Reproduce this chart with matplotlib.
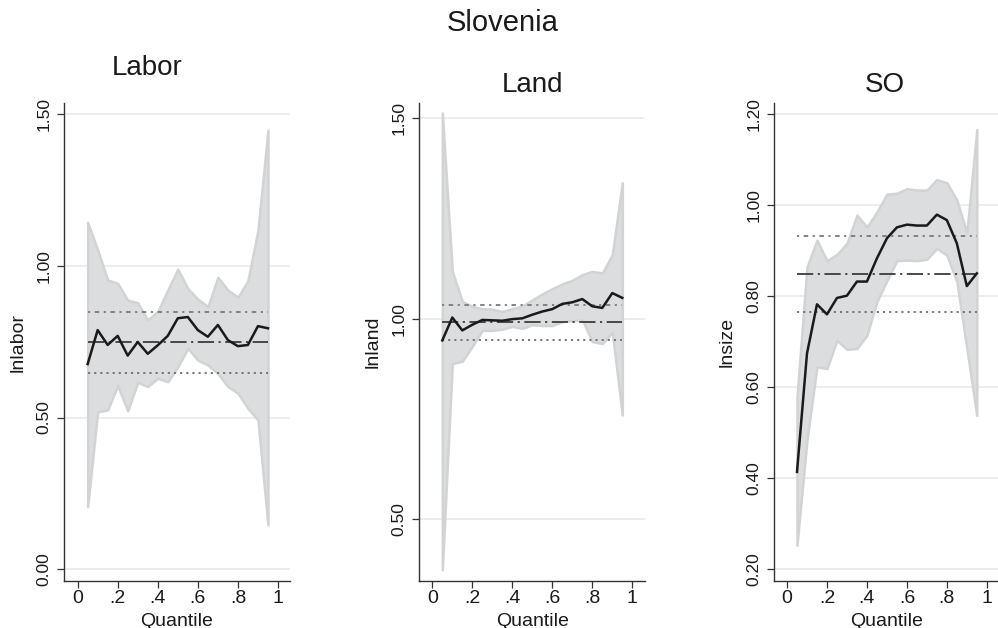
import matplotlib
matplotlib.use("Agg")
import matplotlib.pyplot as plt

plt.rcParams["font.family"] = ["Liberation Sans", "DejaVu Sans"]

quantiles = [0.05, 0.10, 0.15, 0.20, 0.25, 0.30, 0.35, 0.40, 0.45, 0.50,
             0.55, 0.60, 0.65, 0.70, 0.75, 0.80, 0.85, 0.90, 0.95]

# Labor
labor_coef = [0.676, 0.788, 0.739, 0.769, 0.704, 0.749, 0.710, 0.738, 0.769, 0.827,
              0.831, 0.788, 0.766, 0.805, 0.755, 0.735, 0.739, 0.801, 0.794]
labor_hi = [1.143, 1.052, 0.953, 0.942, 0.887, 0.878, 0.821, 0.849, 0.920, 0.989,
            0.925, 0.890, 0.865, 0.962, 0.920, 0.896, 0.951, 1.117, 1.447]
labor_lo = [0.206, 0.519, 0.525, 0.605, 0.522, 0.616, 0.602, 0.629, 0.618, 0.667,
            0.728, 0.689, 0.673, 0.645, 0.602, 0.580, 0.530, 0.492, 0.146]
labor_ols = [0.848, 0.748, 0.648]

# Land
land_coef = [0.946, 1.003, 0.971, 0.985, 0.997, 0.996, 0.995, 0.999, 1.001, 1.010,
             1.018, 1.024, 1.037, 1.041, 1.049, 1.031, 1.027, 1.064, 1.052]
land_hi = [1.513, 1.118, 1.043, 1.031, 1.025, 1.024, 1.018, 1.025, 1.032, 1.047,
           1.062, 1.075, 1.087, 1.096, 1.110, 1.118, 1.114, 1.160, 1.339]
land_lo = [0.374, 0.888, 0.894, 0.931, 0.971, 0.971, 0.974, 0.981, 0.976, 0.985,
           0.983, 0.983, 0.993, 0.995, 0.997, 0.943, 0.938, 0.966, 0.760]
land_ols = [1.035, 0.992, 0.948]

# SO
so_coef = [0.414, 0.674, 0.782, 0.760, 0.796, 0.801, 0.832, 0.832, 0.883, 0.927,
           0.951, 0.957, 0.955, 0.955, 0.979, 0.967, 0.916, 0.822, 0.850]
so_hi = [0.579, 0.864, 0.923, 0.878, 0.892, 0.916, 0.978, 0.952, 0.985, 1.024,
         1.026, 1.036, 1.033, 1.033, 1.056, 1.049, 1.011, 0.939, 1.166]
so_lo = [0.253, 0.484, 0.645, 0.641, 0.703, 0.683, 0.685, 0.714, 0.788, 0.834,
         0.878, 0.879, 0.878, 0.881, 0.905, 0.890, 0.832, 0.685, 0.538]
so_ols = [0.932, 0.849, 0.766]

x_ticks = [0, 0.2, 0.4, 0.6, 0.8, 1.0]
x_ticklabels = ["0", ".2", ".4", ".6", ".8", "1"]

panels = [
    dict(title="Labor", ylabel="lnlabor", coef=labor_coef, hi=labor_hi, lo=labor_lo,
         ols=labor_ols, yticks=[0.0, 0.5, 1.0, 1.5], ylim=(-0.0375, 1.535),
         xlim=(-0.068, 1.06), left=64, right=290, ylabel_x=18, title_xy=(147.5, 68)),
    dict(title="Land", ylabel="lnland", coef=land_coef, hi=land_hi, lo=land_lo,
         ols=land_ols, yticks=[0.5, 1.0, 1.5], ylim=(0.347, 1.537),
         xlim=(-0.065, 1.0635), left=419.3, right=645, ylabel_x=373.5, title_xy=(532.5, 85)),
    dict(title="SO", ylabel="lnsize", coef=so_coef, hi=so_hi, lo=so_lo,
         ols=so_ols, yticks=[0.2, 0.4, 0.6, 0.8, 1.0, 1.2], ylim=(0.175, 1.2235),
         xlim=(-0.0636, 1.056), left=774.3, right=998, ylabel_x=727, title_xy=(885, 85)),
]

W, H = 998, 628
fig = plt.figure(figsize=(W / 100, H / 100), dpi=100)
fig.patch.set_facecolor("white")

top_px, bottom_px = 103.3, 580.7
axis_color = "#333333"
text_color = "#1a1a1a"

for p in panels:
    width_px = p["right"] - p["left"]
    height_px = bottom_px - top_px
    ax = fig.add_axes([p["left"] / W, 1 - bottom_px / H,
                       width_px / W, height_px / H])
    ax.set_xlim(*p["xlim"])
    ax.set_ylim(*p["ylim"])

    ax.fill_between(quantiles, p["lo"], p["hi"], facecolor="#dcdddf",
                    edgecolor="#d2d3d5", linewidth=1.8, zorder=2)

    hi_ci, est, lo_ci = p["ols"]
    ax.hlines(hi_ci, quantiles[0], quantiles[-1], colors="#7a7a7a",
              linestyles=(0, (1.2, 2.5, 2.5, 2.5)), linewidth=1.3, zorder=3)
    ax.hlines(est, quantiles[0], quantiles[-1], colors="#3c3c3c",
              linestyles=(0, (9, 2.5, 1.2, 2.5)), linewidth=1.3, zorder=3)
    ax.hlines(lo_ci, quantiles[0], quantiles[-1], colors="#6e6e6e",
              linestyles=(0, (1.2, 2.2)), linewidth=1.3, zorder=3)

    ax.plot(quantiles, p["coef"], color="#1a1a1a", linewidth=1.8, zorder=4)

    ax.set_yticks(p["yticks"])
    ax.set_yticklabels([f"{v:.2f}" for v in p["yticks"]])
    ax.set_xticks(x_ticks)
    ax.set_xticklabels(x_ticklabels)
    ax.yaxis.grid(True, color="#e8e8e8", linewidth=1.1, zorder=0)
    ax.set_axisbelow(True)

    for side in ("top", "right"):
        ax.spines[side].set_visible(False)
    for side in ("left", "bottom"):
        ax.spines[side].set_color(axis_color)
        ax.spines[side].set_linewidth(1.0)

    ax.tick_params(axis="both", direction="out", length=5, width=0.9,
                   color=axis_color, labelcolor=text_color)
    ax.tick_params(axis="x", labelsize=14, pad=2)
    ax.tick_params(axis="y", labelsize=12.5, pad=4)
    plt.setp(ax.get_yticklabels(), rotation=90, va="center")

    ax.set_ylabel(p["ylabel"], fontsize=14, color=text_color)
    ax.yaxis.set_label_coords((p["ylabel_x"] - p["left"]) / width_px, 0.5)
    ax.yaxis.label.set_va("center")
    ax.set_xlabel("Quantile", fontsize=14, color=text_color)
    ax.xaxis.set_label_coords(0.5, (bottom_px - 625.5) / height_px)
    ax.xaxis.label.set_va("baseline")

    tx, ty = p["title_xy"]
    fig.text(tx / W, 1 - ty / H, p["title"], fontsize=20, ha="center",
             va="center", color=text_color)

fig.text(502.5 / W, 1 - 23 / H, "Slovenia", fontsize=21, ha="center",
         va="center", color=text_color)

fig.savefig("out.png", dpi=100, facecolor=fig.get_facecolor())
